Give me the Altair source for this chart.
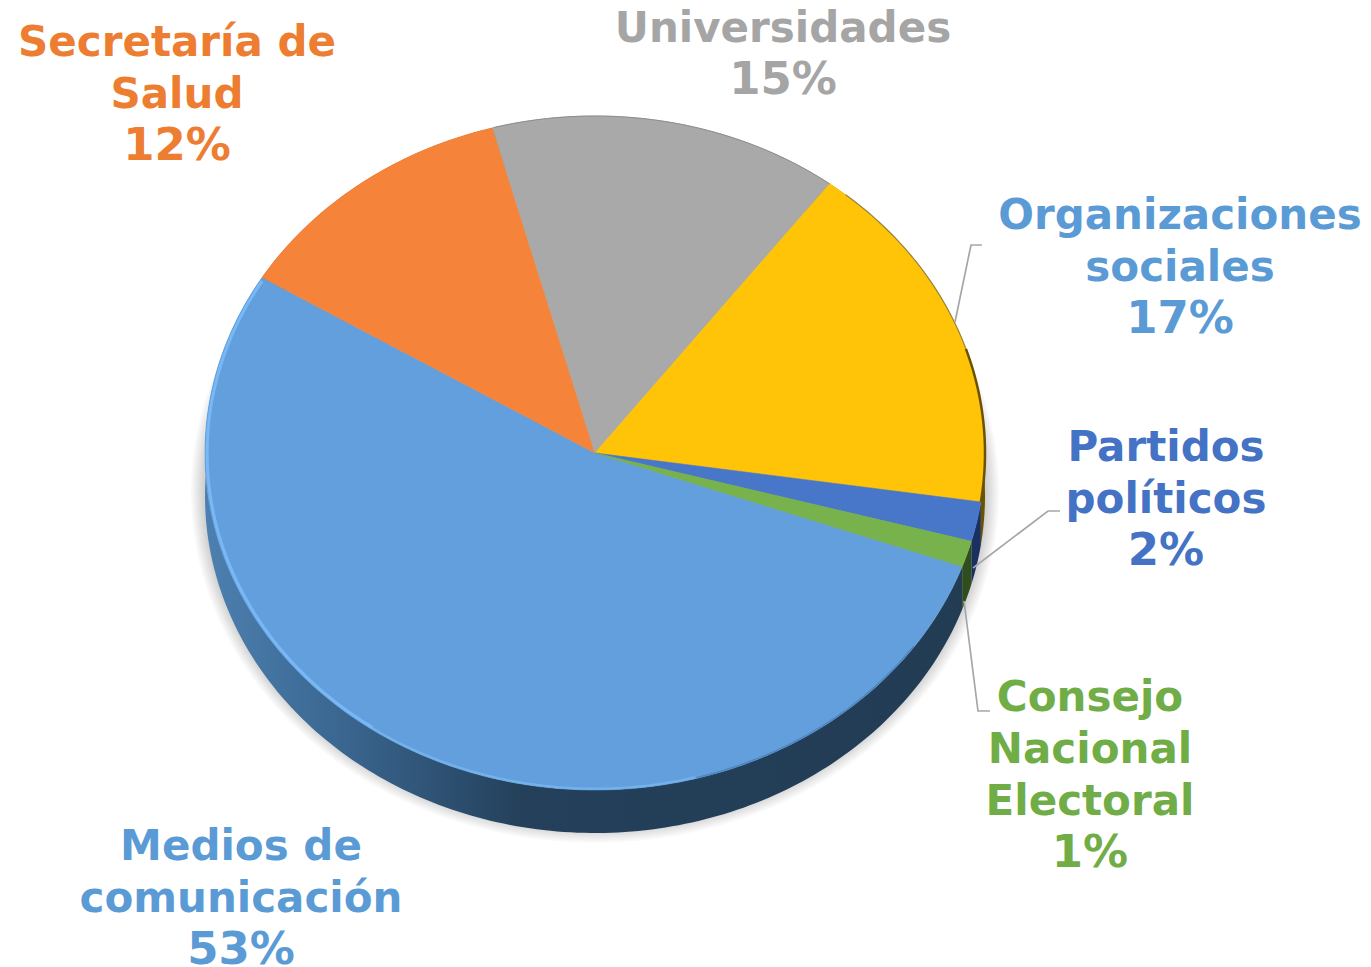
import math
import altair as alt
import pandas as pd

# Data
categories = ["Medios de\ncomunicación", "Secretaría de\nSalud", "Universidades",
              "Organizaciones\nsociales", "Partidos\npolíticos", "Consejo\nNacional\nElectoral"]
shares = [53.25, 12.05, 14.5, 17.05, 1.9, 1.25]
percent_labels = ["53%", "12%", "15%", "17%", "2%", "1%"]
start_angle = 109.7

# Style
top_colors = ["#629fdc", "#f5843a", "#a9a9a9", "#ffc408", "#4876c8", "#78b24d"]
text_colors = ["#5b9bd5", "#ed7d31", "#a5a5a5", "#5b9bd5", "#4472c4", "#70ad47"]
wall_colors = ["#24405a", "#8a4a1e", "#666666", "#6b5200", "#1a3160", "#2f4d1f"]

W, H = 1355, 959
CX, CY, RX, RY, DEPTH = 587.0, 445.0, 390.0, 337.0, 43.0
XD = [-CX / RX, (W - CX) / RX]
YD = [-(H - CY) / RY, CY / RY]
ux = lambda px: (px - 8 - CX) / RX
uy = lambda py: -(py - 8 - CY) / RY
dy = DEPTH / RY

x_enc = alt.X("x:Q", scale=alt.Scale(domain=XD, nice=False, zero=False), axis=None)
y_enc = alt.Y("y:Q", scale=alt.Scale(domain=YD, nice=False, zero=False), axis=None)


def arc_pts(a0, a1, r=1.0, off=0.0, step=1.0):
    n = max(2, int(abs(a1 - a0) / step) + 1)
    out = []
    for i in range(n + 1):
        a = math.radians(a0 + (a1 - a0) * i / n)
        out.append((r * math.sin(a), r * math.cos(a) - off))
    return out


def poly(pts, **mark):
    df = pd.DataFrame([{"k": i, "x": p[0], "y": p[1]} for i, p in enumerate(pts)])
    return alt.Chart(df).mark_line(**mark).encode(x=x_enc, y=y_enc, order=alt.Order("k:Q"))


# slice boundaries
bounds = []
a = start_angle
for s in shares:
    bounds.append((a, a + s * 3.6))
    a += s * 3.6

layers = []

# soft shadow
for i in range(8):
    g = 14 - 1.75 * i
    pts = [(p[0] * (RX + g) / RX, p[1] * (RY + g) / RY - dy * 0.9) for p in arc_pts(0, 360)]
    layers.append(poly(pts, fill="#000000", fillOpacity=0.025, strokeWidth=0, stroke="transparent"))

# side walls
wall_fill = alt.LinearGradient(
    gradient="linear", x1=0, x2=1, y1=0, y2=0,
    stops=[alt.GradientStop(offset=0, color="#4d80b0"),
           alt.GradientStop(offset=0.18, color="#3a6690"),
           alt.GradientStop(offset=0.42, color="#24405a"),
           alt.GradientStop(offset=1, color="#223c54")],
)
for idx, (a0, a1) in enumerate(bounds):
    pts = arc_pts(a0, a1) + arc_pts(a1, a0, off=dy)
    fill = wall_fill if idx == 0 else wall_colors[idx]
    layers.append(poly(pts, fill=fill, strokeWidth=0, stroke="transparent"))

# top faces
for idx, (a0, a1) in enumerate(bounds):
    pts = [(0.0, 0.0)] + arc_pts(a0, a1) + [(0.0, 0.0)]
    layers.append(poly(pts, fill=top_colors[idx], stroke=top_colors[idx], strokeWidth=0.6))

# rim highlights
org_end = bounds[3][1] - 360
layers.append(poly(arc_pts(215, bounds[0][1] - 0.5, r=0.9945), stroke="#78b8f6", strokeWidth=3, fill="transparent"))
layers.append(poly(arc_pts(165, 215, r=0.996), stroke="#74b2ee", strokeWidth=2.2, fill="transparent"))
layers.append(poly(arc_pts(125, 165, r=0.998), stroke="#4f86bd", strokeWidth=1.5, fill="transparent"))
layers.append(poly(arc_pts(40, 72, r=1.0), stroke="#9a8540", strokeWidth=1.2, fill="transparent"))
layers.append(poly(arc_pts(72, org_end, r=1.0), stroke="#6b5200", strokeWidth=2.5, fill="transparent"))
layers.append(poly(arc_pts(-15, 37, r=1.0), stroke="#8f8f8f", strokeWidth=1, fill="transparent"))

# leader lines
leaders_px = [
    [(955, 322), (971, 245), (982, 245)],
    [(973, 568), (1048, 511), (1060, 511)],
    [(964, 601), (978, 711), (990, 711)],
]
for line in leaders_px:
    layers.append(poly([(ux(p[0]), uy(p[1])) for p in line], stroke="#a6a6a6", strokeWidth=1.7, fill="transparent"))

# labels
label_cx = [241, 177, 783, 1180, 1166, 1090]
label_base = [860, 56, 42, 229, 461, 711]
LINE = 52
for i, cat in enumerate(categories):
    n = cat.count("\n") + 1
    df = pd.DataFrame([{"x": ux(label_cx[i]), "y": uy(label_base[i]), "t": cat}])
    layers.append(
        alt.Chart(df).mark_text(
            font="DejaVu Sans", fontWeight="bold", fontSize=42, align="center",
            baseline="alphabetic", lineBreak="\n", lineHeight=LINE, color=text_colors[i],
        ).encode(x=x_enc, y=y_enc, text="t:N")
    )
    df2 = pd.DataFrame([{"x": ux(label_cx[i]), "y": uy(label_base[i] + n * LINE), "t": percent_labels[i]}])
    layers.append(
        alt.Chart(df2).mark_text(
            font="DejaVu Sans", fontWeight="bold", fontSize=45, align="center",
            baseline="alphabetic", color=text_colors[i],
        ).encode(x=x_enc, y=y_enc, text="t:N")
    )

chart = alt.layer(*layers).properties(
    width=W, height=H, padding=0, autosize=alt.AutoSizeParams(type="none"), background="white"
).configure_view(stroke=None)

chart.save("out.html", embed_options={"renderer": "svg", "actions": False})
